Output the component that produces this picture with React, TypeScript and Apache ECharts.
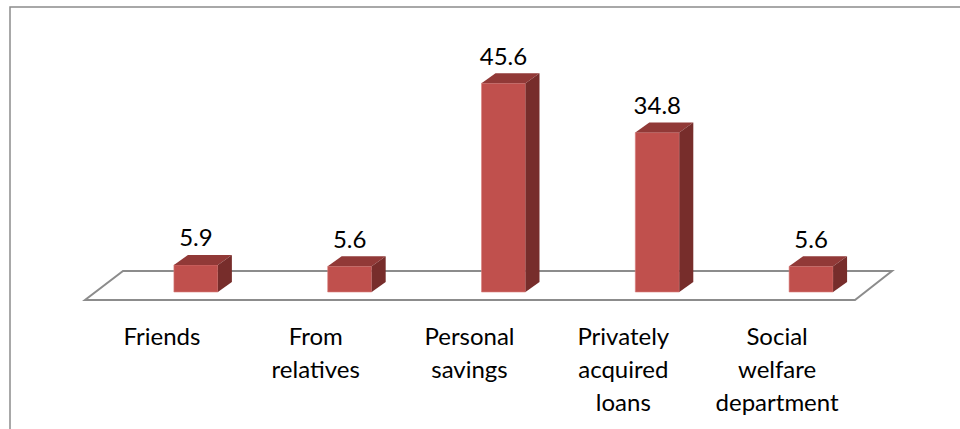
import React, { useEffect, useRef } from "react";
import * as echarts from "echarts";

const categories = [
  "Friends",
  "From\nrelatives",
  "Personal\nsavings",
  "Privately\nacquired\nloans",
  "Social\nwelfare\ndepartment",
];
const values = [5.9, 5.6, 45.6, 34.8, 5.6];
const valueLabels = ["5.9", "5.6", "45.6", "34.8", "5.6"];

const FRONT = "#C0504D";
const TOP = "#913937";
const SIDE = "#772D2B";
const GRAY = "#8c8c8c";
const FONT = "Lato";

export default function App() {
  const ref = useRef<HTMLDivElement>(null);
  useEffect(() => {
    if (!ref.current) return;
    const chart = echarts.init(ref.current, undefined, { renderer: "svg" });
    const depthX = 14;
    const depthY = 10;
    const option: any = {
      animation: false,
      backgroundColor: "#ffffff",
      grid: { left: 119, right: 72, top: 63, bottom: 137 },
      xAxis: {
        type: "category",
        data: categories,
        axisLine: { show: false },
        axisTick: { show: false },
        axisLabel: { show: false },
        splitLine: { show: false },
      },
      yAxis: {
        type: "value",
        min: 0,
        max: 50,
        show: false,
        splitLine: { show: false },
      },
      graphic: [
        {
          type: "rect",
          shape: { x: 10, y: 7, width: 1100, height: 600 },
          style: { fill: "none", stroke: GRAY, lineWidth: 1.5 },
          z: 0,
        },
      ],
      series: [
        {
          type: "custom",
          data: values.map((v, i) => [i, v]),
          encode: { x: 0, y: 1 },
          renderItem: (params: any, api: any) => {
            const idx = api.value(0);
            const val = api.value(1);
            const top = api.coord([idx, val]);
            const base = api.coord([idx, 0]);
            const cx = top[0];
            const yTop = top[1];
            const yZero = base[1];
            const bw = api.size([1, 0])[0] * 0.286;
            const x0 = cx - bw / 2;
            const x1 = cx + bw / 2;
            const cs = params.coordSys;
            const children: any[] = [];
            if (params.dataIndex === 0) {
              const gl = cs.x;
              const gr = cs.x + cs.width;
              children.push({
                type: "polygon",
                shape: {
                  points: [
                    [gl - 34, yZero + 8],
                    [gr - 33, yZero + 8],
                    [gr + 4, yZero - 21],
                    [gl + 4, yZero - 21],
                  ],
                },
                style: { fill: "none", stroke: GRAY, lineWidth: 2 },
              });
            }
            children.push({
              type: "rect",
              shape: { x: x0, y: yTop, width: bw, height: yZero - yTop },
              style: { fill: FRONT, stroke: "#d9807d", lineWidth: 0.6 },
            });
            children.push({
              type: "polygon",
              shape: {
                points: [
                  [x0, yTop],
                  [x1, yTop],
                  [x1 + depthX, yTop - depthY],
                  [x0 + depthX, yTop - depthY],
                ],
              },
              style: { fill: TOP },
            });
            children.push({
              type: "polygon",
              shape: {
                points: [
                  [x1, yTop],
                  [x1 + depthX, yTop - depthY],
                  [x1 + depthX, yZero - depthY],
                  [x1, yZero],
                ],
              },
              style: { fill: SIDE },
            });
            children.push({
              type: "text",
              style: {
                text: valueLabels[params.dataIndex],
                x: cx,
                y: yTop - 28,
                align: "center",
                verticalAlign: "middle",
                fontSize: 24,
                fontFamily: FONT,
                fill: "#000000",
              },
            });
            children.push({
              type: "text",
              style: {
                text: categories[params.dataIndex],
                x: cx - 34,
                y: yZero + 26.5,
                align: "center",
                verticalAlign: "top",
                fontSize: 24,
                lineHeight: 33,
                fontFamily: FONT,
                fill: "#000000",
              },
            });
            return { type: "group", children };
          },
        },
      ],
    };
    chart.setOption(option);
    return () => chart.dispose();
  }, []);
  return (
    <div
      ref={ref}
      style={{ position: "fixed", left: 0, top: 0, width: 960, height: 429 }}
    />
  );
}
